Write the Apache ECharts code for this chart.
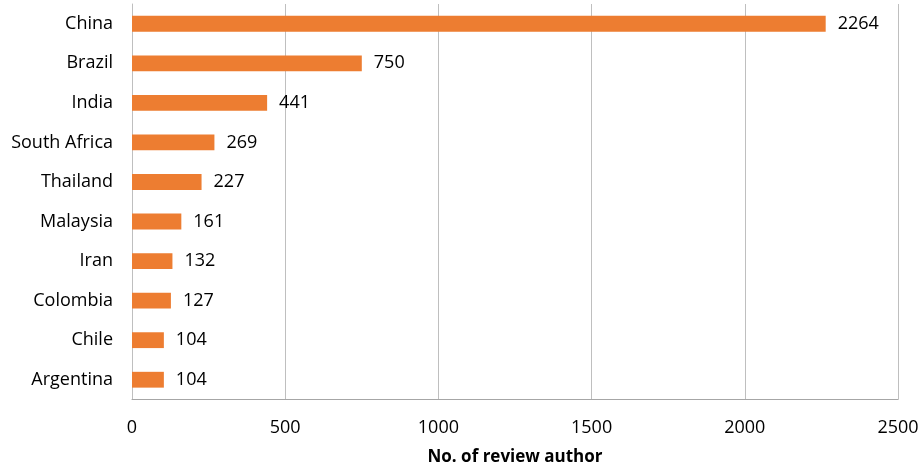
<!DOCTYPE html>
<html>
<head>
<meta charset="utf-8">
<script src="https://cdn.jsdelivr.net/npm/echarts@6/dist/echarts.min.js"></script>
<style>html,body{margin:0;padding:0;background:#fff;}#c{width:921px;height:465px;}</style>
</head>
<body>
<div id="c"></div>
<script>
var countries = ['China','Brazil','India','South Africa','Thailand','Malaysia','Iran','Colombia','Chile','Argentina'];
var authors = [2264, 750, 441, 269, 227, 161, 132, 127, 104, 104];
var xTicks = [0, 500, 1000, 1500, 2000, 2500];
var axisTitle = 'No. of review author';

var chart = echarts.init(document.getElementById('c'));
var font = '"Open Sans", sans-serif';
chart.setOption({
  animation: false,
  grid: {left: 132, right: 23, top: 4, bottom: 65.5, containLabel: false, outerBoundsMode: 'none'},
  xAxis: {
    type: 'value', min: xTicks[0], max: xTicks[xTicks.length-1], interval: 500,
    name: axisTitle, nameLocation: 'middle', nameGap: 49,
    nameTextStyle: {fontFamily: font, fontSize: 17, fontWeight: 'bold', color: '#000'},
    axisLine: {show: true, lineStyle: {color: '#a6a6a6', width: 1}},
    axisTick: {show: false},
    axisLabel: {fontFamily: font, fontSize: 18, color: '#000', margin: 19, formatter: function(v){return String(v);}},
    splitLine: {show: true, lineStyle: {color: '#bfbfbf', width: 1}}
  },
  yAxis: {
    type: 'category', data: countries, inverse: true,
    axisLine: {show: true, lineStyle: {color: '#bfbfbf', width: 1}},
    axisTick: {show: false},
    axisLabel: {fontFamily: font, fontSize: 18, color: '#000', margin: 19}
  },
  series: [{
    type: 'bar', data: authors, barWidth: '40%',
    itemStyle: {color: '#ED7D31'},
    label: {show: true, position: 'right', distance: 12, fontFamily: font, fontSize: 18, color: '#000'}
  }]
});
</script>
</body>
</html>
